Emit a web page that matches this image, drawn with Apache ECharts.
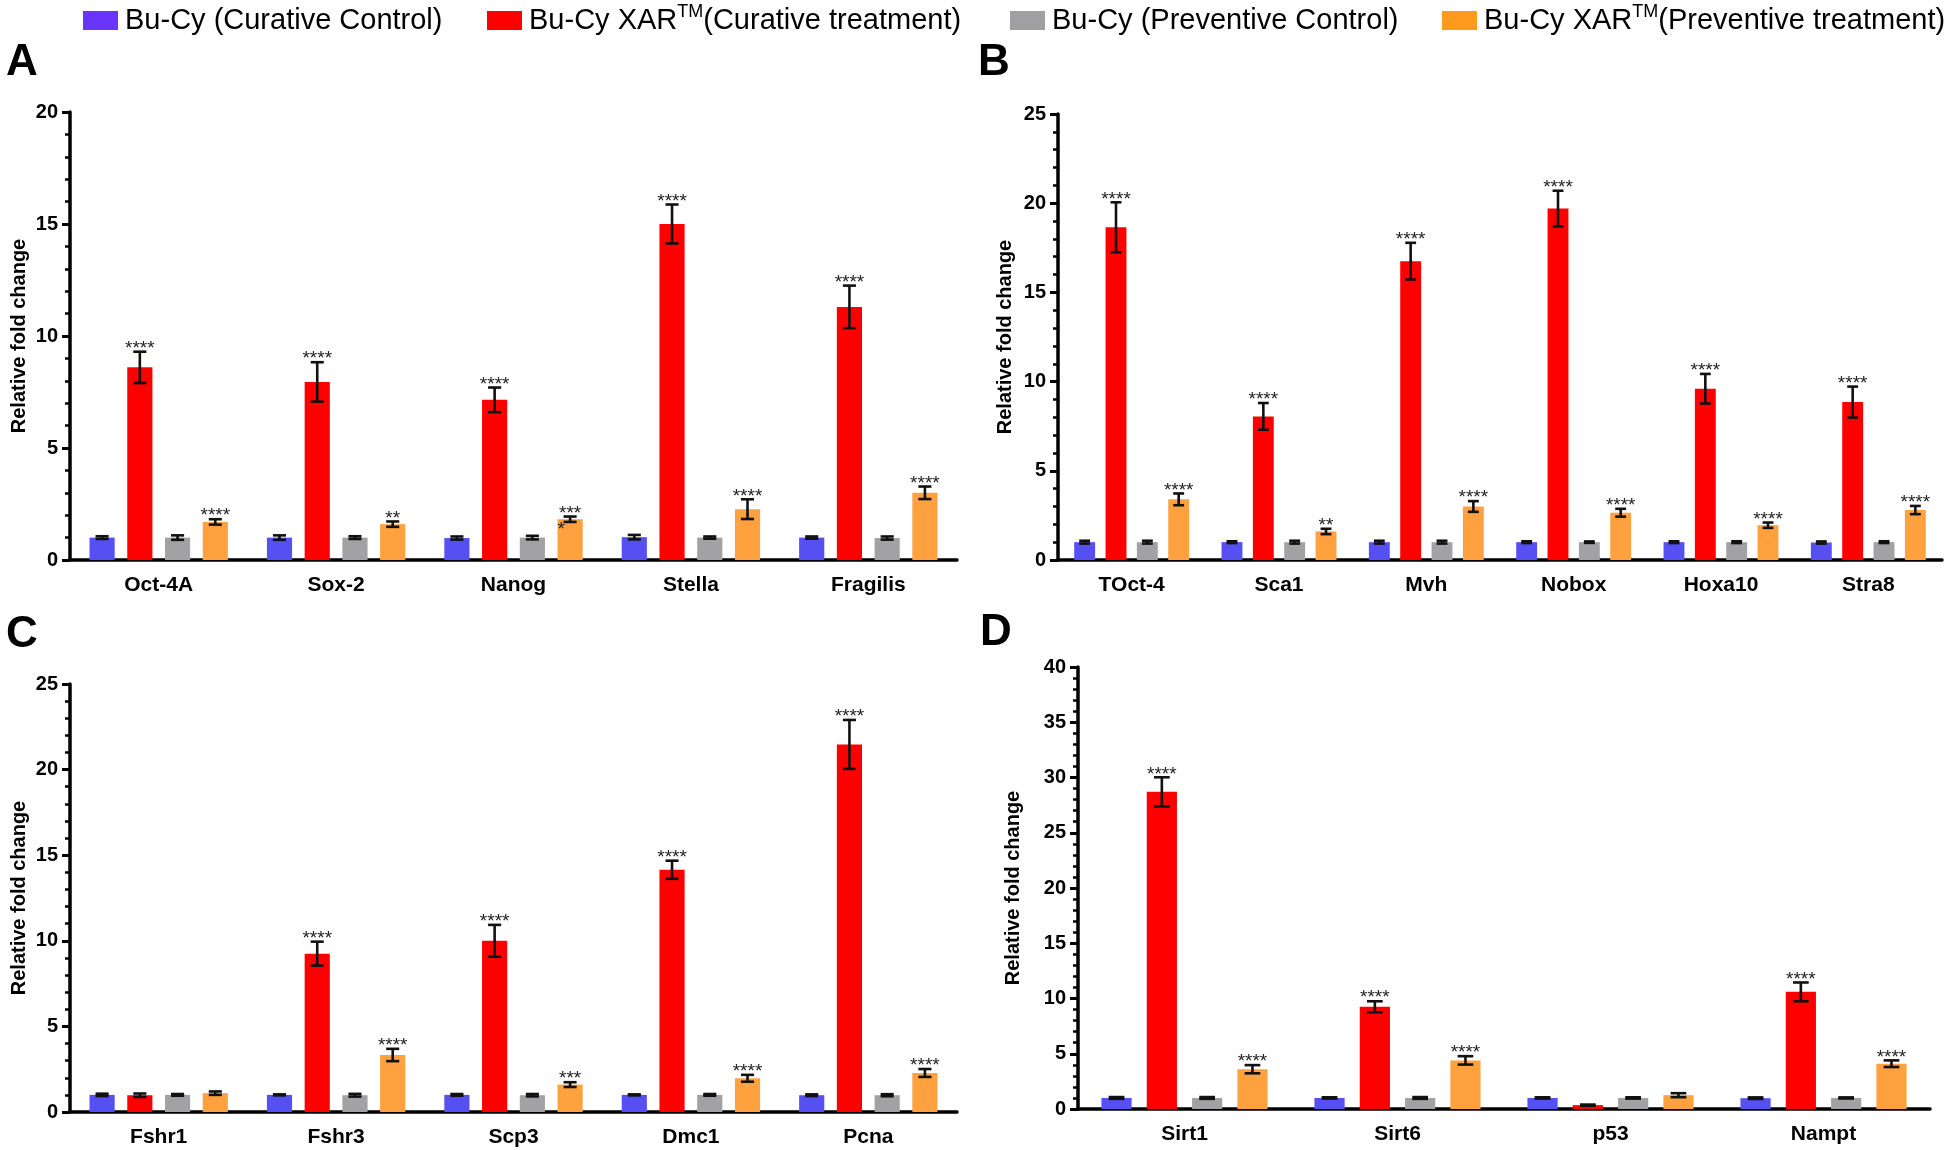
<!DOCTYPE html>
<html>
<head>
<meta charset="utf-8">
<script src="https://cdn.jsdelivr.net/npm/echarts@6/dist/echarts.min.js"></script>
<style>
html,body{margin:0;padding:0;background:#fff;}
#chart{width:1944px;height:1150px;}
</style>
</head>
<body>
<div id="chart"></div>
<script>
// ---------------- DATA ----------------
const SERIES_NAMES = ['Bu-Cy (Curative Control)', 'Bu-Cy XAR™(Curative treatment)', 'Bu-Cy (Preventive Control)', 'Bu-Cy XAR™(Preventive treatment)'];

// Panel A
const CAT_A = ['Oct-4A', 'Sox-2', 'Nanog', 'Stella', 'Fragilis'];
const A_CC = [1.0, 1.0, 0.98, 1.02, 1.0];
const A_CC_ERR = [0.06, 0.1, 0.07, 0.1, 0.05];
const A_CT = [8.6, 7.95, 7.15, 15.0, 11.3];
const A_CT_ERR = [0.7, 0.88, 0.55, 0.87, 0.95];
const A_PC = [1.0, 1.0, 1.0, 1.0, 0.98];
const A_PC_ERR = [0.1, 0.06, 0.08, 0.05, 0.07];
const A_PT = [1.7, 1.6, 1.82, 2.27, 3.0];
const A_PT_ERR = [0.12, 0.12, 0.12, 0.44, 0.28];
const A_CT_SIG = ['****', '****', '****', '****', '****'];
const A_PT_SIG = ['****', '**', '***', '****', '****'];
const A_EXTRA_SIG = [[2, 3, 1.35, '*']]; // [category, group, value, text]

// Panel B
const CAT_B = ['TOct-4', 'Sca1', 'Mvh', 'Nobox', 'Hoxa10', 'Stra8'];
const B_CC = [1.0, 1.0, 1.0, 1.0, 1.0, 0.98];
const B_CC_ERR = [0.08, 0.05, 0.08, 0.05, 0.05, 0.06];
const B_CT = [18.65, 8.05, 16.75, 19.7, 9.6, 8.85];
const B_CT_ERR = [1.4, 0.75, 1.03, 1.0, 0.83, 0.87];
const B_PC = [1.0, 1.0, 1.0, 1.0, 1.0, 1.0];
const B_PC_ERR = [0.08, 0.08, 0.08, 0.04, 0.05, 0.05];
const B_PT = [3.4, 1.6, 3.0, 2.65, 1.95, 2.8];
const B_PT_ERR = [0.33, 0.15, 0.3, 0.22, 0.15, 0.23];
const B_CT_SIG = ['****', '****', '****', '****', '****', '****'];
const B_PT_SIG = ['****', '**', '****', '****', '****', '****'];

// Panel C
const CAT_C = ['Fshr1', 'Fshr3', 'Scp3', 'Dmc1', 'Pcna'];
const C_CC = [1.0, 1.0, 1.0, 1.0, 0.98];
const C_CC_ERR = [0.07, 0.03, 0.05, 0.03, 0.05];
const C_CT = [0.98, 9.25, 10.0, 14.15, 21.47];
const C_CT_ERR = [0.1, 0.7, 0.93, 0.53, 1.43];
const C_PC = [1.0, 0.98, 0.98, 1.0, 0.98];
const C_PC_ERR = [0.05, 0.08, 0.07, 0.05, 0.06];
const C_PT = [1.1, 3.33, 1.6, 1.97, 2.28];
const C_PT_ERR = [0.1, 0.36, 0.14, 0.2, 0.23];
const C_CT_SIG = ['', '****', '****', '****', '****'];
const C_PT_SIG = ['', '****', '***', '****', '****'];

// Panel D
const CAT_D = ['Sirt1', 'Sirt6', 'p53', 'Nampt'];
const D_CC = [1.0, 1.0, 1.0, 0.98];
const D_CC_ERR = [0.08, 0.06, 0.06, 0.07];
const D_CT = [28.7, 9.25, 0.35, 10.6];
const D_CT_ERR = [1.32, 0.5, 0.05, 0.85];
const D_PC = [1.0, 1.0, 1.0, 1.0];
const D_PC_ERR = [0.08, 0.08, 0.06, 0.05];
const D_PT = [3.6, 4.4, 1.25, 4.1];
const D_PT_ERR = [0.37, 0.38, 0.18, 0.3];
const D_CT_SIG = ['****', '****', '', '****'];
const D_PT_SIG = ['****', '****', '', '****'];

// Y axis ranges
const Y_MAX = [20, 25, 25, 40];
const Y_STEP = [5, 5, 5, 5];
const PANEL_LETTERS = ['A', 'B', 'C', 'D'];

// ---------------- STYLE / LAYOUT ----------------
const BAR_COLORS = ['#5650f3', '#ff0000', '#a2a2a5', '#ffa13f'];
const LEGEND_COLORS = ['#6a35fb', '#ff0000', '#a0a0a3', '#ff9a1c'];
const GRIDS = [
  {left: 70, top: 112, width: 887, height: 448},
  {left: 1058, top: 114, width: 884, height: 446},
  {left: 70, top: 684, width: 887, height: 428},
  {left: 1078, top: 667, width: 852, height: 442}
];
const NAME_GAPS = [41, 43, 41, 55];
const LETTER_POS = [[6, 41], [978, 41], [6, 613], [980, 611]];
const LEGEND_X = [83, 487, 1010, 1442];
const LEGEND_Y = 11;
const CAT_GAP = 0.22, BAR_GAP = 0.5;
const FONT = '"Liberation Sans", Arial, sans-serif';

const panels = [
  {cat: CAT_A, vals: [A_CC, A_CT, A_PC, A_PT], errs: [A_CC_ERR, A_CT_ERR, A_PC_ERR, A_PT_ERR], sig: [null, A_CT_SIG, null, A_PT_SIG], extra: A_EXTRA_SIG},
  {cat: CAT_B, vals: [B_CC, B_CT, B_PC, B_PT], errs: [B_CC_ERR, B_CT_ERR, B_PC_ERR, B_PT_ERR], sig: [null, B_CT_SIG, null, B_PT_SIG], extra: []},
  {cat: CAT_C, vals: [C_CC, C_CT, C_PC, C_PT], errs: [C_CC_ERR, C_CT_ERR, C_PC_ERR, C_PT_ERR], sig: [null, C_CT_SIG, null, C_PT_SIG], extra: []},
  {cat: CAT_D, vals: [D_CC, D_CT, D_PC, D_PT], errs: [D_CC_ERR, D_CT_ERR, D_PC_ERR, D_PT_ERR], sig: [null, D_CT_SIG, null, D_PT_SIG], extra: []}
];

const grid = [], xAxis = [], yAxis = [], series = [], graphic = [];

panels.forEach((p, pi) => {
  grid.push(Object.assign({containLabel: false}, GRIDS[pi]));
  xAxis.push({
    type: 'category', gridIndex: pi, data: p.cat,
    axisLine: {lineStyle: {color: '#000', width: 3.5}},
    axisTick: {alignWithLabel: true, length: 10, lineStyle: {color: '#000', width: 3}},
    axisLabel: {color: '#000', fontFamily: FONT, fontWeight: 'bold', fontSize: 21, margin: 15},
    splitLine: {show: false}
  });
  yAxis.push({
    type: 'value', gridIndex: pi, min: 0, max: Y_MAX[pi], interval: Y_STEP[pi],
    name: 'Relative fold change', nameLocation: 'middle', nameGap: NAME_GAPS[pi], nameRotate: 90,
    nameTextStyle: {color: '#000', fontFamily: FONT, fontSize: 20, fontWeight: 'bold'},
    axisLine: {show: true, lineStyle: {color: '#000', width: 3.5}},
    axisTick: {show: true, length: 8, lineStyle: {color: '#000', width: 3}},
    minorTick: {show: true, splitNumber: 5, length: 5, lineStyle: {color: '#000', width: 2.5}},
    axisLabel: {color: '#000', fontFamily: FONT, fontWeight: 'bold', fontSize: 20, margin: 12},
    splitLine: {show: false}
  });
  for (let s = 0; s < 4; s++) {
    series.push({
      type: 'bar', name: SERIES_NAMES[s], xAxisIndex: pi, yAxisIndex: pi,
      data: p.vals[s], itemStyle: {color: BAR_COLORS[s]},
      barGap: (BAR_GAP * 100) + '%', barCategoryGap: (CAT_GAP * 100) + '%',
      emphasis: {disabled: true}, animation: false
    });
  }
  const items = [];
  for (let s = 0; s < 4; s++) {
    p.vals[s].forEach((v, c) => items.push([c, v, p.errs[s][c], s, 0]));
  }
  p.extra.forEach((e, k) => items.push([e[0], e[2], 0, e[1], k + 1]));
  series.push({
    type: 'custom', xAxisIndex: pi, yAxisIndex: pi, z: 10, animation: false, silent: true,
    data: items,
    renderItem: (params, api) => {
      const c = api.value(0), v = api.value(1), e = api.value(2), s = api.value(3), ex = api.value(4);
      const band = api.size([1, 0])[0];
      const bw = band * (1 - CAT_GAP) / (4 + 3 * BAR_GAP);
      const x = api.coord([c, 0])[0] + (s - 1.5) * (1 + BAR_GAP) * bw;
      if (ex > 0) {
        const y = api.coord([c, v])[1];
        return {type: 'text', style: {text: p.extra[ex - 1][3], x: x - 9, y: y, textAlign: 'center', textVerticalAlign: 'middle', font: '19px ' + FONT, fill: '#222'}};
      }
      const yTop = api.coord([c, v + e])[1];
      const yBot = api.coord([c, Math.max(v - e, 0)])[1];
      const cap = bw * 0.26;
      const ls = {stroke: '#111', lineWidth: 2.6};
      const children = [
        {type: 'line', shape: {x1: x, y1: yTop, x2: x, y2: yBot}, style: ls},
        {type: 'line', shape: {x1: x - cap, y1: yTop, x2: x + cap, y2: yTop}, style: ls},
        {type: 'line', shape: {x1: x - cap, y1: yBot, x2: x + cap, y2: yBot}, style: ls}
      ];
      const sig = p.sig[s] ? p.sig[s][c] : '';
      if (sig) {
        children.push({type: 'text', style: {text: sig, x: x, y: yTop - 3, textAlign: 'center', textVerticalAlign: 'middle', font: '19px ' + FONT, fill: '#222'}});
      }
      return {type: 'group', children: children};
    }
  });
  graphic.push({type: 'text', left: LETTER_POS[pi][0], top: LETTER_POS[pi][1], style: {text: PANEL_LETTERS[pi], font: 'bold 44px ' + FONT, fill: '#000'}});
});

// Legend (drawn as graphic so the superscript TM can be positioned exactly)
const richStyles = {
  n: {fontSize: 29, fontFamily: FONT, fill: '#000', lineHeight: 34},
  s: {fontSize: 18, fontFamily: FONT, fill: '#000', lineHeight: 18, verticalAlign: 'top'}
};
SERIES_NAMES.forEach((name, i) => {
  const k = name.indexOf('™');
  const txt = k < 0 ? '{n|' + name + '}' : '{n|' + name.slice(0, k) + '}{s|TM}{n|' + name.slice(k + 1) + '}';
  graphic.push({type: 'rect', shape: {x: LEGEND_X[i], y: LEGEND_Y, width: 35, height: 19}, style: {fill: LEGEND_COLORS[i]}});
  graphic.push({type: 'text', x: LEGEND_X[i] + 42, y: LEGEND_Y + 9.5, style: {text: txt, rich: richStyles, verticalAlign: 'middle', align: 'left', fill: '#000'}});
});

const chart = echarts.init(document.getElementById('chart'), null, {renderer: 'canvas'});
chart.setOption({
  backgroundColor: '#fff',
  animation: false,
  grid: grid, xAxis: xAxis, yAxis: yAxis, series: series, graphic: graphic
});
</script>
</body>
</html>
